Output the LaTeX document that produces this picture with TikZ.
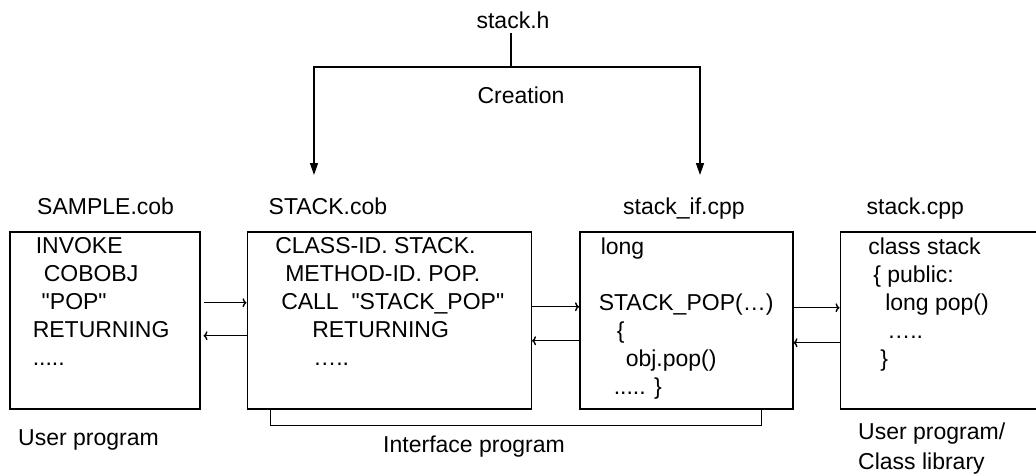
\documentclass[tikz,border=0pt]{standalone}
\usepackage{fontspec}
\setmainfont{Liberation Sans}
\usetikzlibrary{arrows.meta,positioning}

% code listing inside a box, top aligned
\newcommand{\codetext}[2]{\parbox[t][177pt][t]{#1}{\vspace*{6pt}#2}}

\begin{document}
\begin{tikzpicture}[
  x=1pt, y=-1pt,
  every node/.style={font=\fontsize{23}{28}\selectfont},
  box/.style={draw, line width=1.5pt, anchor=north west, inner sep=0pt},
  tag/.style={anchor=base west, inner sep=0pt},
  call/.style={-{To[length=4pt,width=9pt]}, line width=1.4pt},
  creation/.style={-{Triangle[length=12pt,width=8pt]}, line width=1.4pt}
]
\useasboundingbox (0,0) rectangle (1036,475);

% the four program boxes
\node[box] (sample) at (9,231) {\codetext{190pt}{%
  \hspace*{26pt}INVOKE\\
  \hspace*{34pt}COBOBJ\\
  \hspace*{32pt}\textquotedbl POP\textquotedbl\\
  \hspace*{23pt}RETURNING\\
  \hspace*{23pt}.....}};
\node[box, right=46pt of sample] (stackcob) {\codetext{284pt}{%
  \hspace*{28pt}CLASS-ID. STACK.\\
  \hspace*{38pt}METHOD-ID. POP.\\
  \hspace*{34pt}CALL\ \ \textquotedbl STACK\_POP\textquotedbl\\
  \hspace*{65pt}RETURNING\\
  \hspace*{66pt}…..}};
\node[box, right=47pt of stackcob] (stackif) {\codetext{213pt}{%
  \hspace*{21pt}long\\[28pt]
  \hspace*{19pt}STACK\_POP(…)\\
  \hspace*{37pt}\{\\
  \hspace*{46pt}obj.pop()\\
  \hspace*{34pt}..... \}}};
\node[box, right=46pt of stackif] (stackcpp) {\codetext{205pt}{%
  \hspace*{28pt}class stack\\
  \hspace*{33pt}\{ public:\\
  \hspace*{45pt}long pop()\\
  \hspace*{47pt}…..\\
  \hspace*{40pt}\}}};

% file names
\node[tag] (sampleName) at ([xshift=28pt,yshift=17pt]sample.north west) {SAMPLE.cob};
\node[tag] (stackcobName) at ([xshift=22pt,yshift=17pt]stackcob.north west) {STACK.cob};
\node[tag] (stackifName) at ([xshift=44pt,yshift=17pt]stackif.north west) {stack\_if.cpp};
\node[tag] (stackcppName) at ([xshift=27pt,yshift=17pt]stackcpp.north west) {stack.cpp};

% captions
\node[tag] (userProg) at ([xshift=9pt,yshift=-36pt]sample.south west) {User program};
\node[anchor=base, inner sep=0pt] (ifProg) at (474,452) {Interface program};
\node[anchor=north west, inner sep=0pt, align=left, font=\fontsize{23}{30}\selectfont]
  (classLib) at (858,423) {User program/\\Class library};

% header creation
\node[anchor=base, inner sep=0pt] (stackh) at (513,28) {stack.h};
\node[anchor=base, inner sep=0pt] (creation) at (521,103) {Creation};
\coordinate (fork) at (511,67);
\coordinate (tipL) at (314,175);
\coordinate (tipR) at (700,175);
\draw[line width=1.4pt] ([yshift=-5pt]stackh.south -| fork) -- (fork);
\draw[creation] (fork) -| (tipL);
\draw[creation] (fork) -| (tipR);

% calls between programs
\draw[call, shorten <=3pt] ([yshift=17.5pt]sample.east) -- ([yshift=17.5pt]stackcob.west);
\draw[call, shorten >=3pt] ([yshift=-15.5pt]stackcob.west) -- ([yshift=-15.5pt]sample.east);
\draw[call] ([yshift=13.5pt]stackcob.east) -- ([yshift=13.5pt]stackif.west);
\draw[call] ([yshift=-20.5pt]stackif.west) -- ([yshift=-20.5pt]stackcob.east);
\draw[call] ([yshift=12.5pt]stackif.east) -- ([yshift=12.5pt]stackcpp.west);
\draw[call] ([yshift=-22.5pt]stackcpp.west) -- ([yshift=-22.5pt]stackif.east);

% interface bracket
\draw[line width=1.4pt] ([xshift=24pt]stackcob.south west) -- ++(0,16) -| ([xshift=-32pt]stackif.south east);
\end{tikzpicture}
\end{document}
